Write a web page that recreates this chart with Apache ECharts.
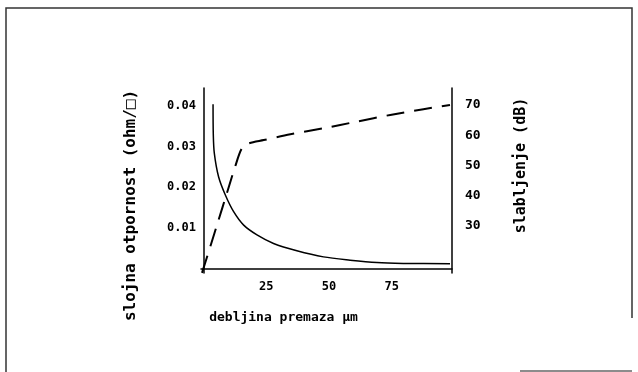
<!DOCTYPE html>
<html>
<head>
<meta charset="utf-8">
<script src="https://cdn.jsdelivr.net/npm/echarts@6/dist/echarts.min.js"></script>
<style>
html,body{margin:0;padding:0;background:#fff;}
#chart{width:638px;height:372px;}
</style>
</head>
<body>
<div id="chart"></div>
<script>
// Sheet resistance (left axis) vs coating thickness
const resThickness = [3.8, 3.9, 4.3, 6.0, 8.7, 12.0, 16.0, 21.3, 27.9, 37.2, 47.8, 58.4, 69.1, 79.6, 98.2];
const resValues    = [0.0404, 0.0330, 0.0284, 0.0226, 0.0181, 0.0140, 0.0107, 0.0083, 0.0062, 0.0044, 0.0029, 0.0021, 0.0015, 0.0013, 0.0012];
// Attenuation (right axis) vs coating thickness
const attThickness = [-0.6, 2.7, 6.0, 9.3, 12.6, 15.3, 18.0, 24.0, 34.6, 47.8, 61.1, 74.4, 87.6, 98.2];
const attValues    = [14.5, 23.2, 32.0, 40.8, 49.6, 55.7, 57.3, 58.4, 60.3, 62.3, 64.5, 66.7, 68.6, 70];
// Tick labels
const xTickValues = [25, 50, 75];
const leftTickValues = [0.01, 0.02, 0.03, 0.04];
const rightTickValues = [30, 40, 50, 60, 70];

const FONT = 'DejaVu Sans Mono';
const chart = echarts.init(document.getElementById('chart'), null, {renderer: 'canvas'});

const axisLine = {show: true, lineStyle: {color: '#000', width: 1.5}};

chart.setOption({
  backgroundColor: '#fff',
  animation: false,
  grid: {left: 201, right: 186, top: 88, bottom: 99, containLabel: false},
  xAxis: {
    type: 'value', min: -1, max: 99,
    axisLine: axisLine,
    axisTick: {show: false},
    splitLine: {show: false},
    axisLabel: {customValues: xTickValues, color: '#000', fontFamily: FONT, fontWeight: 'bold', fontSize: 12, margin: 8},
    name: 'debljina premaza µm',
    nameLocation: 'middle',
    nameGap: 38,
    nameTextStyle: {color: '#000', fontFamily: FONT, fontWeight: 'bold', fontSize: 13, padding: [0, 86, 0, 0]}
  },
  yAxis: [
    {
      type: 'value', min: -0.00106, max: 0.0444, position: 'left',
      axisLine: axisLine,
      axisTick: {show: false},
      splitLine: {show: false},
      axisLabel: {customValues: leftTickValues, color: '#000', fontFamily: FONT, fontWeight: 'bold', fontSize: 12, margin: 5,
        formatter: v => v.toFixed(2)},
      name: 'slojna otpornost (ohm/□)',
      nameLocation: 'middle',
      nameRotate: 90,
      nameGap: 62,
      nameTextStyle: {color: '#000', fontFamily: FONT, fontWeight: 'bold', fontSize: 16, padding: [0, 50, 0, 0]}
    },
    {
      type: 'value', min: 14.46, max: 75.6, position: 'right',
      axisLine: axisLine,
      axisTick: {show: false},
      splitLine: {show: false},
      axisLabel: {customValues: rightTickValues, color: '#000', fontFamily: FONT, fontWeight: 'bold', fontSize: 13, margin: 13},
      name: 'slabljenje (dB)',
      nameLocation: 'middle',
      nameRotate: 90,
      nameGap: 62,
      nameTextStyle: {color: '#000', fontFamily: FONT, fontWeight: 'bold', fontSize: 15, padding: [0, 0, 0, 30]}
    }
  ],
  series: [
    {
      type: 'line', yAxisIndex: 0, showSymbol: false, smooth: 0.3,
      data: resThickness.map((x, i) => [x, resValues[i]]),
      lineStyle: {color: '#000', width: 1.5}
    },
    {
      type: 'line', yAxisIndex: 1, showSymbol: false, smooth: 0.3,
      data: attThickness.map((x, i) => [x, attValues[i]]),
      lineStyle: {color: '#000', width: 2, type: [18, 10]}
    }
  ],
  graphic: [
    {type: 'polyline', shape: {points: [[6, 372], [6, 8], [632, 8], [632, 318]]}, style: {stroke: '#333', lineWidth: 1.5, fill: null}},
    {type: 'line', shape: {x1: 520, y1: 371, x2: 632, y2: 371}, style: {stroke: '#666', lineWidth: 1.5}}
  ]
});
</script>
</body>
</html>
